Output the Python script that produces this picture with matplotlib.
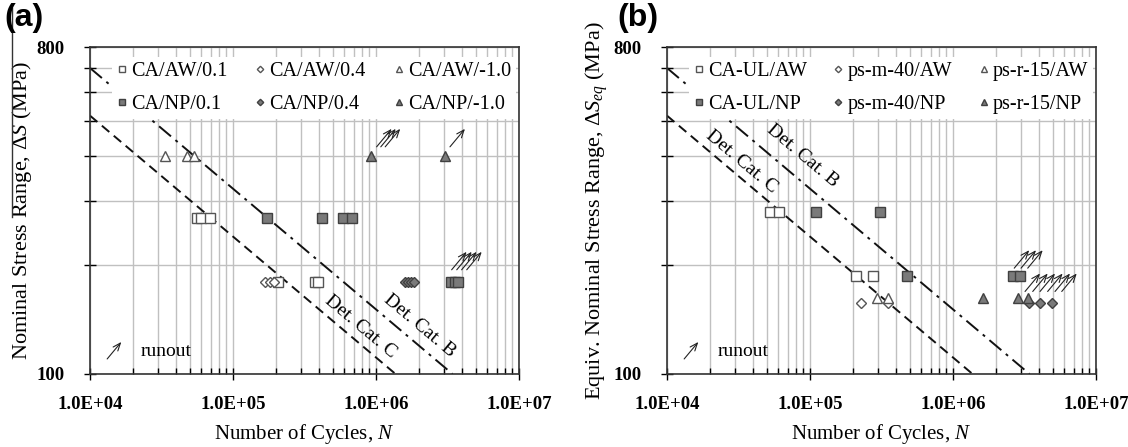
import matplotlib
matplotlib.use("Agg")
import matplotlib.pyplot as plt
import matplotlib.ticker as mticker
import matplotlib.transforms as mtransforms
from matplotlib.lines import Line2D

plt.rcParams['font.family'] = ['Liberation Serif', 'DejaVu Serif']
plt.rcParams['mathtext.fontset'] = 'custom'
plt.rcParams['mathtext.rm'] = 'Liberation Serif'
plt.rcParams['mathtext.it'] = 'Liberation Serif:italic'
plt.rcParams['mathtext.bf'] = 'Liberation Serif:bold'

# ---- panel (a) data: cycles N and stress range S (MPa)
a_aw01_n = [55.7e3, 59.5e3, 69e3, 205e3, 375e3, 395e3]
a_aw01_s = [270, 270, 270, 180, 180, 180]
a_aw04_n = [167e3, 180e3, 192e3]
a_aw04_s = [180, 180, 180]
a_aw10_n = [33.5e3, 48e3, 53e3]
a_aw10_s = [400, 400, 400]
a_np01_n = [172e3, 417e3, 584e3, 676e3, 3.35e6, 3.55e6, 3.75e6]
a_np01_s = [270, 270, 270, 270, 180, 180, 180]
a_np04_n = [1.6e6, 1.68e6, 1.76e6, 1.84e6]
a_np04_s = [180, 180, 180, 180]
a_np10_n = [0.93e6, 3.04e6]
a_np10_s = [400, 400]
a_runout_n = [1.01e6, 1.08e6, 1.16e6, 3.29e6, 3.38e6, 3.67e6, 3.97e6, 4.31e6]
a_runout_s = [424, 424, 424, 424, 194, 194, 194, 194]

# ---- panel (b) data
b_ulaw_n = [52.5e3, 60.5e3, 210e3, 278e3]
b_ulaw_s = [280, 280, 186, 186]
b_m40aw_n = [226e3, 352e3]
b_m40aw_s = [157, 157]
b_r15aw_n = [292e3, 349e3]
b_r15aw_s = [162, 162]
b_ulnp_n = [110e3, 309e3, 474e3, 2.61e6, 2.94e6]
b_ulnp_s = [280, 280, 186, 186, 186]
b_m40np_n = [3.42e6, 4.08e6, 4.95e6]
b_m40np_s = [157, 157, 157]
b_r15np_n = [1.61e6, 2.83e6, 3.36e6]
b_r15np_s = [162, 162, 162]
b_runout_n = [2.68e6, 2.99e6, 3.33e6, 3.19e6, 3.61e6, 4.06e6, 4.59e6, 5.17e6, 5.76e6]
b_runout_s = [196, 196, 196, 169, 169, 169, 169, 169, 169]

# ---- detail category lines (end points)
cat_c_n = [1e4, 1.37e6]
cat_c_s = [517, 100]
cat_b_n = [1e4, 3.43e6]
cat_b_s = [700, 100]

a_labels = ['CA/AW/0.1', 'CA/AW/0.4', 'CA/AW/-1.0', 'CA/NP/0.1', 'CA/NP/0.4', 'CA/NP/-1.0']
b_labels = ['CA-UL/AW', 'ps-m-40/AW', 'ps-r-15/AW', 'CA-UL/NP', 'ps-m-40/NP', 'ps-r-15/NP']

y_ticks = [100, 200, 300, 400, 500, 600, 700, 800]
x_ticks = [1e4, 1e5, 1e6, 1e7]

OPEN = dict(mfc='white', mec='#555555', mew=1.0)
FILL = dict(mfc='#7a7a7a', mec='#404040', mew=1.0)
ARROW = dict(arrowstyle='->,head_length=0.55,head_width=0.22', lw=0.8, color='#222222',
             shrinkA=0, shrinkB=0)


def style_axes(ax, ylabel, ylab_x):
    ax.set_xscale('log')
    ax.set_yscale('log')
    ax.set_xlim(1e4, 1e7)
    ax.set_ylim(100, 800)
    ax.xaxis.set_major_locator(mticker.FixedLocator(x_ticks))
    ax.xaxis.set_minor_locator(mticker.LogLocator(base=10, subs=range(2, 10)))
    ax.xaxis.set_minor_formatter(mticker.NullFormatter())
    ax.xaxis.set_major_formatter(mticker.FuncFormatter(lambda v, p: f"{v:.1E}"))
    ax.yaxis.set_major_locator(mticker.FixedLocator(y_ticks))
    ax.yaxis.set_minor_locator(mticker.NullLocator())
    ax.yaxis.set_major_formatter(mticker.FuncFormatter(
        lambda v, p: f"{v:.0f}" if v in (100, 800) else ""))
    ax.grid(which='both', axis='x', color='#c0c0c0', lw=1.0, zorder=0)
    ax.grid(which='major', axis='y', color='#c0c0c0', lw=1.0, zorder=0)
    ax.set_axisbelow(True)
    ax.tick_params(axis='x', which='major', direction='inout', length=8, width=1,
                   pad=12, labelsize=13.5)
    ax.tick_params(axis='x', which='minor', direction='in', length=4, width=1)
    ax.tick_params(axis='y', which='major', direction='inout', length=9, width=1,
                   pad=14, labelsize=13.5)
    for lab in ax.get_xticklabels() + ax.get_yticklabels():
        lab.set_fontweight('bold')
    for sp in ax.spines.values():
        sp.set_color('#333333')
        sp.set_linewidth(1.2)
    ax.set_xlabel('Number of Cycles, $N$', fontsize=15)
    ax.xaxis.set_label_coords(0.5, -0.146)
    ax.set_ylabel(ylabel, fontsize=16)
    ax.yaxis.set_label_coords(ylab_x, 0.5)

    ax.plot(cat_c_n, cat_c_s, color='#111111', lw=1.4, ls=(0, (5, 3)), zorder=2)
    ax.plot(cat_b_n, cat_b_s, color='#111111', lw=1.4, ls=(0, (8, 3, 1.5, 3)), zorder=2)

    ax.annotate('', xy=(0.073, 0.098), xycoords='axes fraction',
                xytext=(0.04, 0.046), textcoords='axes fraction', arrowprops=ARROW)
    ax.text(0.119, 0.07, 'runout', transform=ax.transAxes, fontsize=14, va='center')


def draw_runouts(ax, fig, ns, ss):
    tip = mtransforms.offset_copy(ax.transData, fig=fig, x=15 * 0.72, y=18 * 0.72, units='points')
    for n, s in zip(ns, ss):
        ax.annotate('', xy=(n, s), xycoords=tip, xytext=(n, s), textcoords='data',
                    arrowprops=ARROW, zorder=4)


def add_legend(ax, handles, labels):
    order = [0, 3, 1, 4, 2, 5]
    leg = ax.legend([handles[i] for i in order], [labels[i] for i in order], ncol=3,
                    loc='upper left', bbox_to_anchor=(0.051, 0.8, 0.942, 0.169),
                    mode='expand', borderaxespad=0, borderpad=0.25, fontsize=14.5,
                    frameon=True, fancybox=False, framealpha=1, edgecolor='none',
                    facecolor='white', handlelength=0.5, handletextpad=0.2,
                    labelspacing=0.7, columnspacing=1.0, markerscale=0.65)
    leg.set_zorder(6)


fig = plt.figure(figsize=(11.28, 4.47), dpi=100)
ax1 = fig.add_axes([90 / 1128, 73 / 447, 429 / 1128, 327 / 447])
ax2 = fig.add_axes([667 / 1128, 73 / 447, 429 / 1128, 327 / 447])

# ---- panel (a)
style_axes(ax1, r'Nominal Stress Range, $\Delta S$ (MPa)', -0.1305)
h = []
h += ax1.plot(a_aw01_n, a_aw01_s, ls='none', marker='s', ms=6.5, **OPEN, zorder=3)
h += ax1.plot(a_aw04_n, a_aw04_s, ls='none', marker='D', ms=5, **OPEN, zorder=3)
h += ax1.plot(a_aw10_n, a_aw10_s, ls='none', marker='^', ms=7, **OPEN, zorder=3)
h += ax1.plot(a_np01_n, a_np01_s, ls='none', marker='s', ms=6.5, **FILL, zorder=3)
h += ax1.plot(a_np04_n, a_np04_s, ls='none', marker='D', ms=5, **FILL, zorder=3)
h += ax1.plot(a_np10_n, a_np10_s, ls='none', marker='^', ms=7, **FILL, zorder=3)
draw_runouts(ax1, fig, a_runout_n, a_runout_s)
add_legend(ax1, h, a_labels)
ax1.text(0.773e6, 135, 'Det. Cat. C', fontsize=14, rotation=-40,
         rotation_mode='anchor', ha='center', va='center')
ax1.text(2.03e6, 136, 'Det. Cat. B', fontsize=14, rotation=-40,
         rotation_mode='anchor', ha='center', va='center')

# ---- panel (b)
style_axes(ax2, r'Equiv. Nominal Stress Range, $\Delta S_{eq}$ (MPa)', -0.133)
h = []
h += ax2.plot(b_ulaw_n, b_ulaw_s, ls='none', marker='s', ms=6.5, **OPEN, zorder=3)
h += ax2.plot(b_m40aw_n, b_m40aw_s, ls='none', marker='D', ms=5, **OPEN, zorder=3)
h += ax2.plot(b_r15aw_n, b_r15aw_s, ls='none', marker='^', ms=7, **OPEN, zorder=3)
h += ax2.plot(b_ulnp_n, b_ulnp_s, ls='none', marker='s', ms=6.5, **FILL, zorder=3)
h += ax2.plot(b_m40np_n, b_m40np_s, ls='none', marker='D', ms=5, **FILL, zorder=3)
h += ax2.plot(b_r15np_n, b_r15np_s, ls='none', marker='^', ms=7, **FILL, zorder=3)
draw_runouts(ax2, fig, b_runout_n, b_runout_s)
add_legend(ax2, h, b_labels)
ax2.text(33.4e3, 386, 'Det. Cat. C', fontsize=14, rotation=-40,
         rotation_mode='anchor', ha='center', va='center')
ax2.text(88e3, 400, 'Det. Cat. B', fontsize=14, rotation=-40,
         rotation_mode='anchor', ha='center', va='center')

# panel letters and the stray vertical rule at the far left
fig.text(4 / 1128, 1 - 26 / 447, '(a)', family='Liberation Sans', fontweight='bold',
         fontsize=23, va='baseline')
fig.text(617 / 1128, 1 - 26 / 447, '(b)', family='Liberation Sans', fontweight='bold',
         fontsize=23, va='baseline')
fig.add_artist(Line2D([11.5 / 1128, 11.5 / 1128], [1 - 8 / 447, 1 - 217 / 447],
                      color='#333333', lw=1.0))

fig.savefig('out.png', dpi=100)
